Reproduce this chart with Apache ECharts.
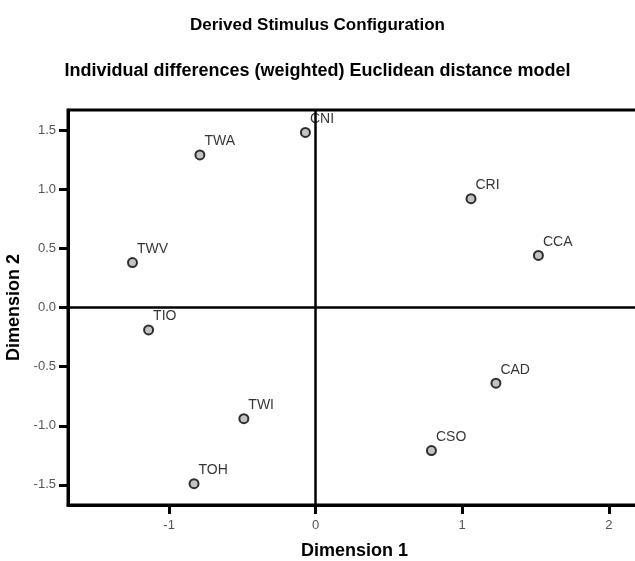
<!DOCTYPE html>
<html>
<head>
<meta charset="utf-8">
<script src="https://cdn.jsdelivr.net/npm/echarts@6/dist/echarts.min.js"></script>
<style>
  html, body { margin: 0; padding: 0; background: #fff; overflow: hidden; }
  #chart { width: 635px; height: 561px; }
</style>
</head>
<body>
<div id="chart"></div>
<script>
// stimulus labels and coordinates
const stimuli = ['CNI', 'TWA', 'CRI', 'CCA', 'TWV', 'TIO', 'CAD', 'TWI', 'CSO', 'TOH']
const dim1 = [-0.07, -0.79, 1.06, 1.52, -1.25, -1.14, 1.23, -0.49, 0.79, -0.83]
const dim2 = [1.48, 1.29, 0.92, 0.44, 0.38, -0.19, -0.64, -0.94, -1.21, -1.49]

const xTicks = [-1, 0, 1, 2]
const yTicks = [-1.5, -1.0, -0.5, 0.0, 0.5, 1.0, 1.5]

const font = 'Arial, "Liberation Sans", sans-serif'

const points = stimuli.map((name, i) => ({ name: name, value: [dim1[i], dim2[i]] }))

const chart = echarts.init(document.getElementById('chart'))
chart.setOption({
  animation: false,
  title: [
    {
      text: 'Derived Stimulus Configuration',
      left: 'center',
      top: 12,
      textStyle: { fontFamily: font, fontSize: 17, fontWeight: 'bold', color: '#000' }
    },
    {
      text: 'Individual differences (weighted) Euclidean distance model',
      left: 'center',
      top: 57,
      textStyle: { fontFamily: font, fontSize: 18, fontWeight: 'bold', color: '#000' }
    }
  ],
  // right edge of the frame runs off the picture, as in the original
  grid: {
    left: 68, top: 110, right: -6, bottom: 56,
    outerBoundsMode: 'none',
    containLabel: false,
    show: true, borderColor: '#000', borderWidth: 3, backgroundColor: '#fff'
  },
  xAxis: {
    type: 'value',
    min: -1.69, max: 2.22,
    name: 'Dimension 1',
    nameLocation: 'middle',
    nameGap: 37,
    nameTextStyle: { fontFamily: font, fontSize: 18, fontWeight: 'bold', color: '#000' },
    axisLine: { show: true, onZero: false, lineStyle: { color: '#000', width: 3 } },
    axisTick: { show: true, length: 9, lineStyle: { color: '#000', width: 3 },
      customValues: xTicks },
    axisLabel: { fontFamily: font, fontSize: 13, color: '#555', margin: 14,
      customValues: xTicks, formatter: v => String(v) },
    splitLine: { show: false }
  },
  yAxis: {
    type: 'value',
    min: -1.67, max: 1.67,
    name: 'Dimension 2',
    nameLocation: 'middle',
    nameGap: 41,
    nameTextStyle: { fontFamily: font, fontSize: 18, fontWeight: 'bold', color: '#000' },
    axisLine: { show: true, onZero: false, lineStyle: { color: '#000', width: 3 } },
    axisTick: { show: true, length: 9, lineStyle: { color: '#000', width: 3 },
      customValues: yTicks },
    axisLabel: { fontFamily: font, fontSize: 13, color: '#555', margin: 12,
      customValues: yTicks, formatter: v => v.toFixed(1) },
    splitLine: { show: false }
  },
  series: [
    {
      type: 'scatter',
      data: points,
      symbol: 'circle',
      symbolSize: 9,
      itemStyle: { color: '#b4b4b4', borderColor: '#000', borderWidth: 2 },
      label: {
        show: true,
        formatter: p => p.name,
        position: [10, -15],
        fontFamily: font,
        fontSize: 14,
        color: '#000'
      },
      markLine: {
        silent: true,
        symbol: 'none',
        label: { show: false },
        lineStyle: { color: '#000', width: 2.5, type: 'solid' },
        data: [{ xAxis: 0 }, { yAxis: 0 }]
      },
      z: 5
    }
  ]
})
</script>
</body>
</html>
